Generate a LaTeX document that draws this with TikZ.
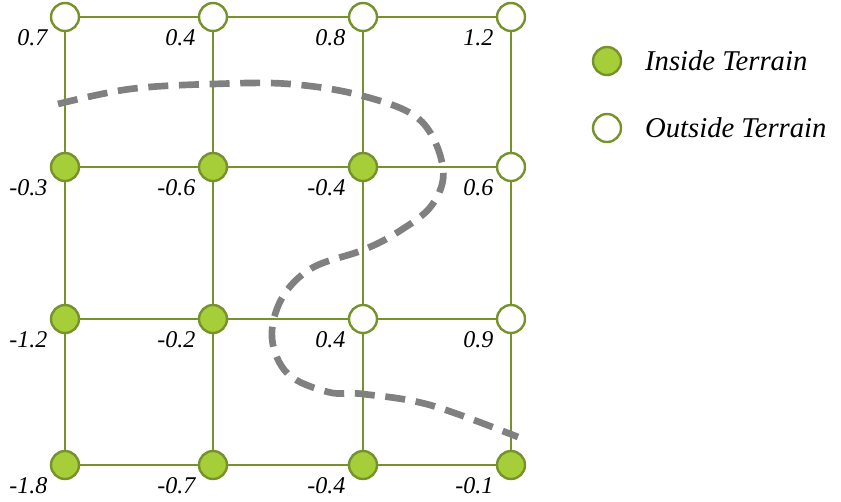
\documentclass[tikz,border=0pt]{standalone}
\usepackage{fontspec}
\setmainfont{Liberation Serif}
\usepackage{tikz}
\usetikzlibrary{positioning,calc}
\definecolor{gridgreen}{HTML}{76922C}
\definecolor{fillgreen}{HTML}{A6CE39}
\definecolor{curvegray}{HTML}{808080}

\begin{document}
\begin{tikzpicture}[
    x=0.75pt, y=-0.75pt,
    inside/.style={circle, draw=gridgreen, line width=1.8pt, fill=fillgreen, minimum size=21pt, inner sep=0pt},
    outside/.style={inside, fill=white},
    val/.style={font=\fontsize{18}{21}\selectfont\itshape, inner xsep=5pt, inner ysep=1pt},
    key/.style={font=\fontsize{21.5}{26}\selectfont\itshape, inner sep=0pt},
    edge/.style={gridgreen, line width=1.8pt},
    curve/.style={curvegray, line width=5pt, dash pattern=on 15pt off 8pt}
  ]
    \useasboundingbox (0,0) rectangle (841,501);

    % sample points: column/row/x/y/value/state
    \foreach \c/\r/\x/\y/\v/\s in {
        0/0/65/17/0.7/outside,   1/0/213/17/0.4/outside,   2/0/363/17/0.8/outside,   3/0/511/17/1.2/outside,
        0/1/65/167/-0.3/inside,  1/1/213/167/-0.6/inside,  2/1/363/167/-0.4/inside,  3/1/511/167/0.6/outside,
        0/2/65/319/-1.2/inside,  1/2/213/319/-0.2/inside,  2/2/363/319/0.4/outside,  3/2/511/319/0.9/outside,
        0/3/65/465/-1.8/inside,  1/3/213/465/-0.7/inside,  2/3/363/465/-0.4/inside,  3/3/511/465/-0.1/inside}
      \node[\s, label={[val]below left:\v}] (n\c\r) at (\x,\y) {};

    % grid
    \foreach \r in {0,1,2,3}
      \draw[edge] (n0\r) -- (n1\r) -- (n2\r) -- (n3\r);
    \foreach \c in {0,1,2,3}
      \draw[edge] (n\c0) -- (n\c1) -- (n\c2) -- (n\c3);

    % boundary curve
    \draw[curve] plot[smooth, tension=0.6] coordinates {
      (58,104) (130,89) (213,84) (290,84) (363,96) (420,120) (443,168)
      (432,205) (398,232) (363,250) (312,268) (282,298) (272,338)
      (288,374) (328,392) (363,394) (430,405) (518,437)};

    % legend
    \node[inside] (keyin) at (607,61) {};
    \node[key, right=17pt of keyin] (keyintext) {Inside Terrain};
    \node[outside] (keyout) at (607,128) {};
    \node[key, right=17pt of keyout] (keyouttext) {Outside Terrain};
  \end{tikzpicture}
\end{document}
